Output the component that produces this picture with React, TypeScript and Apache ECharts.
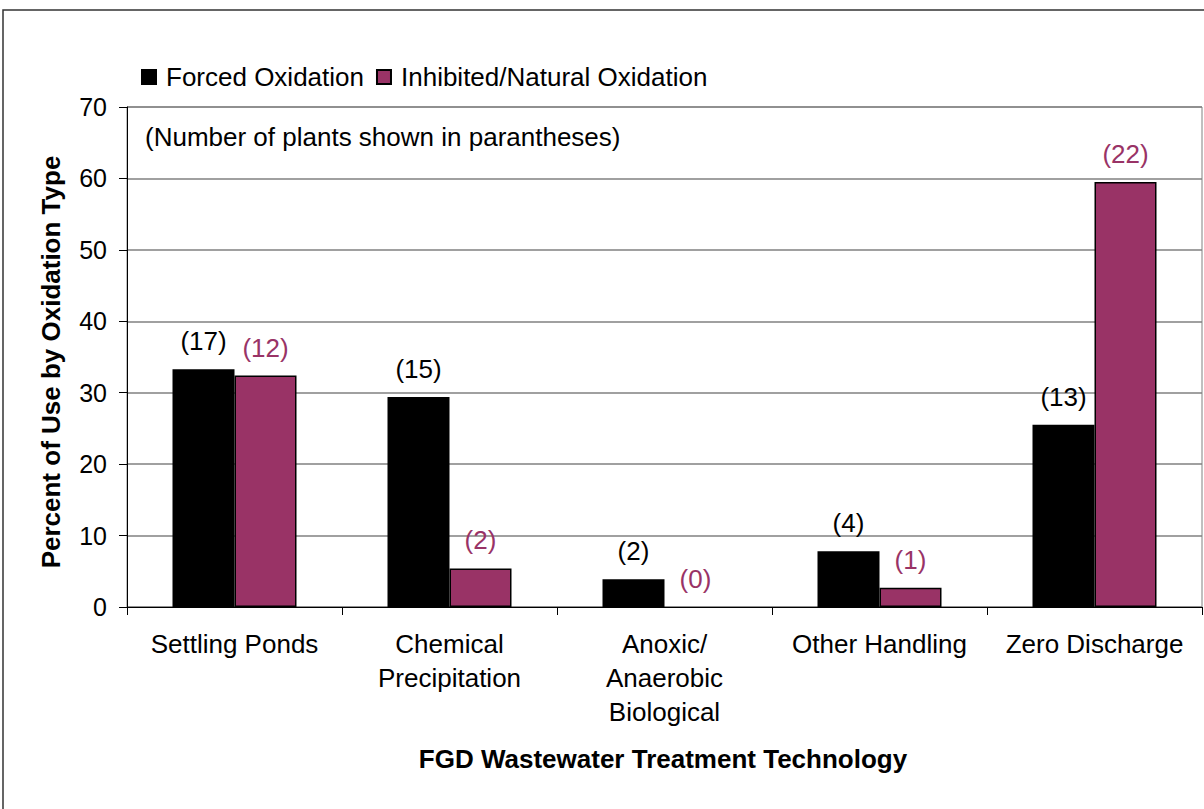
import React, { useEffect, useRef } from "react";
import * as echarts from "echarts";

const categories = [
  "Settling Ponds",
  "Chemical\nPrecipitation",
  "Anoxic/\nAnaerobic\nBiological",
  "Other Handling",
  "Zero Discharge",
];
const forcedValues = [33.3, 29.4, 3.9, 7.8, 25.5];
const inhibitedValues = [32.4, 5.4, 0, 2.7, 59.5];
const forcedCounts = [17, 15, 2, 4, 13];
const inhibitedCounts = [12, 2, 0, 1, 22];
const seriesNames = ["Forced Oxidation", "Inhibited/Natural Oxidation"];

const FONT = "'Liberation Sans', Arial, sans-serif";
const PURPLE = "#993366";
const FS = 26;

const toData = (vals: number[]) =>
  vals.map((v) => (v === 0 ? { value: v, itemStyle: { borderWidth: 0 } } : v));

export default function App() {
  const ref = useRef<HTMLDivElement>(null);
  useEffect(() => {
    if (!ref.current) return;
    const chart = echarts.init(ref.current, null, { renderer: "svg" });
    chart.setOption({
      animation: false,
      backgroundColor: "#ffffff",
      textStyle: { fontFamily: FONT },
      grid: { left: 127, right: 2, top: 107, bottom: 202, show: true, borderColor: "#808080", borderWidth: 1 },
      legend: {
        left: 141,
        top: 64,
        padding: 0,
        itemWidth: 14,
        itemHeight: 14,
        itemGap: 12,
        icon: "rect",
        textStyle: { fontSize: FS, color: "#000", fontFamily: FONT, padding: [0, 0, 0, 5] },
        data: seriesNames,
      },
      xAxis: {
        type: "category",
        data: categories,
        boundaryGap: true,
        axisLine: { lineStyle: { color: "#000", width: 1 } },
        axisTick: { show: true, length: 8, lineStyle: { color: "#000" } },
        axisLabel: { fontSize: FS, color: "#000", lineHeight: 34, margin: 20, fontFamily: FONT, interval: 0 },
      },
      yAxis: {
        type: "value",
        min: 0,
        max: 70,
        interval: 10,
        axisLine: { show: true, lineStyle: { color: "#000", width: 1 } },
        axisTick: { show: true, length: 8, lineStyle: { color: "#000" } },
        axisLabel: { fontSize: 25, color: "#000", margin: 20, fontFamily: FONT },
        splitLine: { show: true, lineStyle: { color: "#808080", width: 1.5 } },
      },
      series: [
        {
          name: seriesNames[0],
          type: "bar",
          data: toData(forcedValues),
          barWidth: 62,
          barGap: "0%",
          itemStyle: { color: "#000000", borderColor: "#000", borderWidth: 1.5 },
          label: {
            show: true,
            position: "top",
            distance: 15,
            fontSize: FS,
            color: "#000",
            fontFamily: FONT,
            formatter: (p: any) => `(${forcedCounts[p.dataIndex]})`,
          },
        },
        {
          name: seriesNames[1],
          type: "bar",
          data: toData(inhibitedValues),
          barWidth: 62,
          barGap: "0%",
          itemStyle: { color: PURPLE, borderColor: "#000", borderWidth: 1.5 },
          label: {
            show: true,
            position: "top",
            distance: 15,
            fontSize: FS,
            color: PURPLE,
            fontFamily: FONT,
            formatter: (p: any) => `(${inhibitedCounts[p.dataIndex]})`,
          },
        },
      ],
      graphic: [
        {
          type: "rect",
          silent: true,
          shape: { x: 3, y: 10, width: 1230, height: 830 },
          style: { fill: "none", stroke: "#333", lineWidth: 1.5 },
        },
        {
          type: "text",
          x: 145,
          y: 137,
          style: {
            text: "(Number of plants shown in parantheses)",
            fontSize: FS,
            fill: "#000",
            fontFamily: FONT,
            align: "left",
            verticalAlign: "middle",
          },
        },
        {
          type: "text",
          x: 51,
          y: 362,
          rotation: Math.PI / 2,
          style: {
            text: "Percent of Use by Oxidation Type",
            fontSize: 26,
            fontWeight: "bold",
            fill: "#000",
            fontFamily: FONT,
            align: "center",
            verticalAlign: "middle",
          },
        },
        {
          type: "text",
          x: 663,
          y: 759,
          style: {
            text: "FGD Wastewater Treatment Technology",
            fontSize: 26,
            fontWeight: "bold",
            fill: "#000",
            fontFamily: FONT,
            align: "center",
            verticalAlign: "middle",
          },
        },
      ],
    });
    return () => chart.dispose();
  }, []);
  return (
    <div
      ref={ref}
      style={{ position: "fixed", left: 0, top: 0, width: 1204, height: 809, background: "#fff" }}
    />
  );
}
